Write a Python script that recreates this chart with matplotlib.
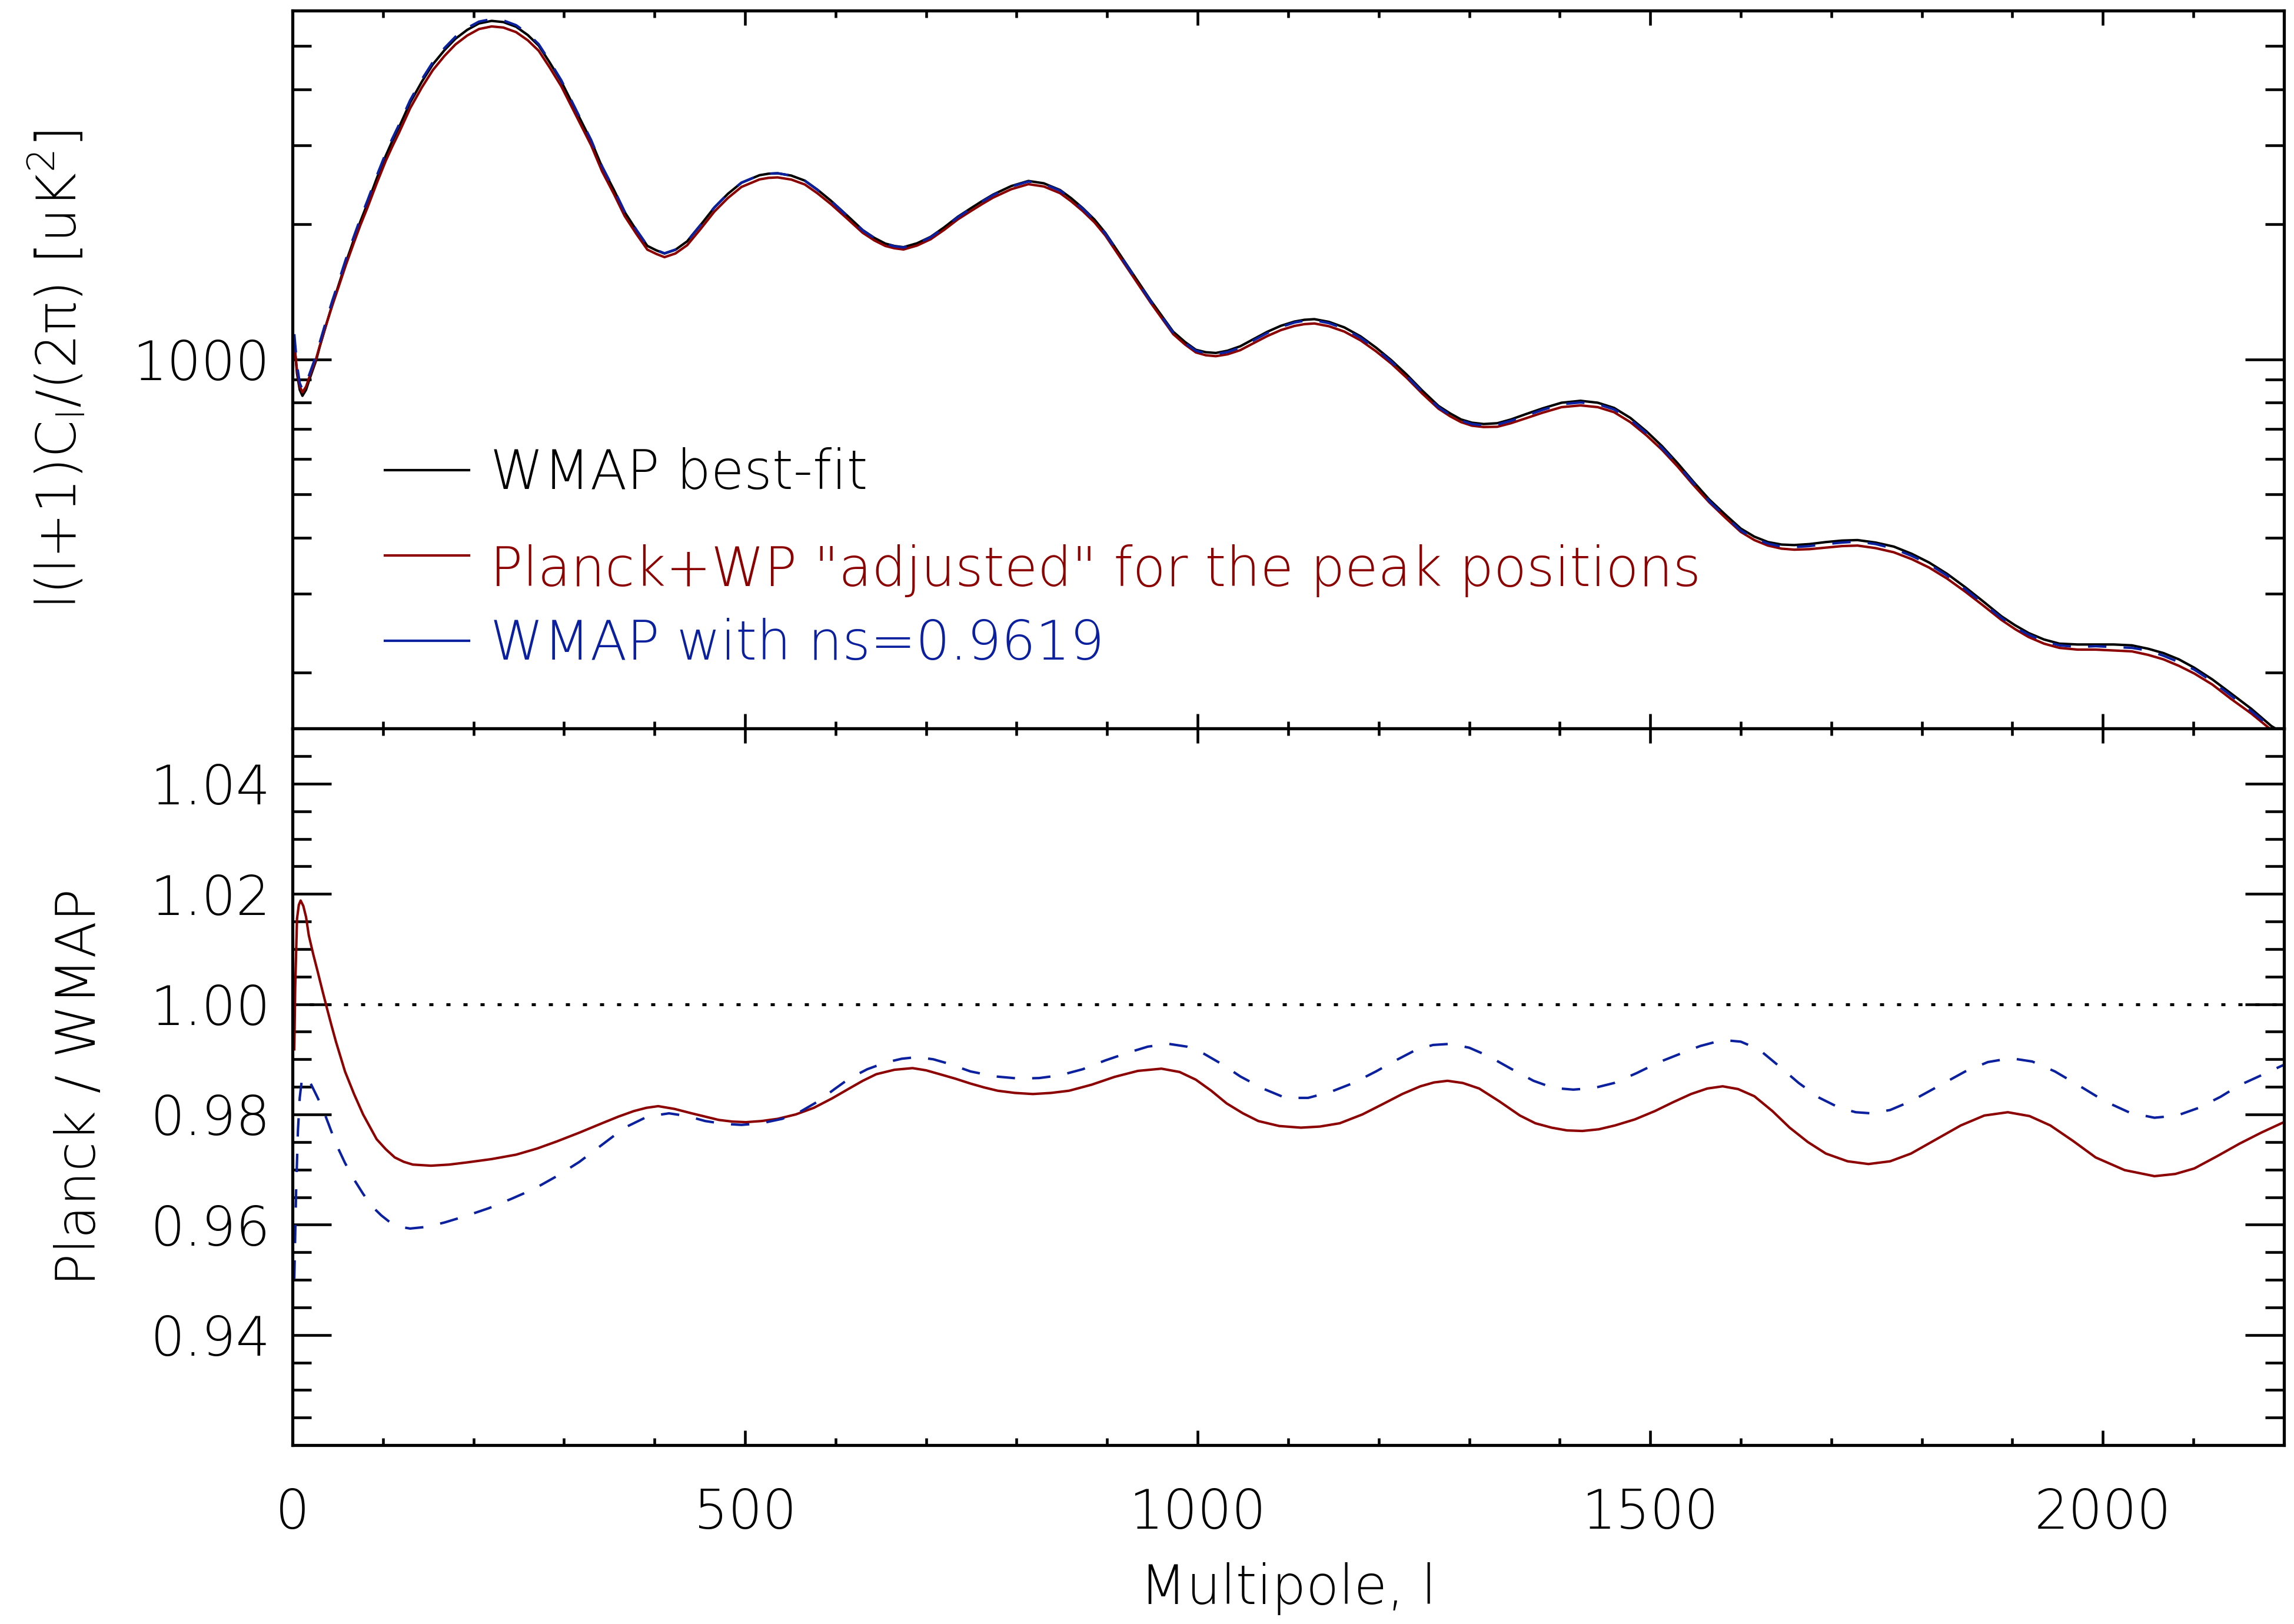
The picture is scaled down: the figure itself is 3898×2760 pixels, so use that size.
import numpy as np
import matplotlib
matplotlib.use("Agg")
import matplotlib.pyplot as plt
from matplotlib.lines import Line2D
from matplotlib.transforms import ScaledTranslation
from matplotlib.ticker import (MultipleLocator, FixedLocator, LogLocator,
                               NullFormatter, FormatStrFormatter)

# --- top panel: l(l+1)C_l/2pi ---
ell = [2, 5, 8, 11, 15, 19, 26, 30, 38, 44, 51, 59, 68, 75, 83, 93, 103, 110,
       118, 130, 143, 155, 168, 180, 193, 206, 220, 233, 247, 260, 272, 284,
       297, 317, 330, 342, 355, 367, 380, 392, 402, 411, 423, 436, 451, 466,
       481, 496, 516, 526, 536, 551, 566, 580, 595, 612, 630, 643, 655, 665,
       675, 690, 705, 720, 735, 749, 762, 774, 794, 813, 830, 848, 860, 873,
       886, 898, 923, 948, 973, 986, 998, 1009, 1020, 1033, 1047, 1062, 1077,
       1092, 1107, 1118, 1129, 1145, 1162, 1180, 1197, 1214, 1231, 1248, 1266,
       1279, 1291, 1303, 1316, 1331, 1346, 1363, 1381, 1402, 1423, 1442, 1460,
       1478, 1496, 1513, 1530, 1547, 1565, 1583, 1600, 1615, 1630, 1645, 1659,
       1676, 1694, 1712, 1729, 1749, 1769, 1789, 1808, 1828, 1848, 1868, 1888,
       1903, 1918, 1935, 1952, 1972, 1992, 2012, 2032, 2050, 2067, 2084, 2101,
       2121, 2141, 2164, 2186, 2200]

dl_wmap = [1090, 930, 855, 829, 855, 905, 993, 1065, 1209, 1325, 1465, 1645,
           1854, 2030, 2231, 2530, 2844, 3060, 3305, 3740, 4166, 4550, 4898,
           5190, 5433, 5616, 5690, 5655, 5522, 5290, 5011, 4600, 4166, 3462,
           3070, 2685, 2390, 2130, 1940, 1791, 1750, 1722, 1755, 1833, 1995,
           2180, 2340, 2477, 2575, 2595, 2600, 2570, 2504, 2390, 2257, 2100,
           1942, 1865, 1812, 1790, 1779, 1815, 1876, 1970, 2080, 2170, 2255,
           2331, 2435, 2500, 2470, 2386, 2290, 2175, 2050, 1915, 1610, 1354,
           1152, 1093, 1050, 1037, 1033, 1045, 1069, 1110, 1152, 1188, 1214,
           1225, 1229, 1212, 1178, 1125, 1062, 995, 924, 852, 787, 757, 734,
           722, 717, 720, 734, 755, 777, 800, 808, 800, 779, 740, 690, 640,
           587, 535, 487, 450, 419, 402, 391, 386, 385, 387, 391, 394, 395,
           390, 382, 368, 352, 332, 310, 288, 267, 255, 245, 237, 232, 231,
           231, 231, 230, 226, 221, 214, 205, 193, 180, 166, 152, 146]

dl_planck = [1081, 944, 871, 844, 869, 917, 1001, 1069, 1208, 1319, 1452,
             1624, 1824, 1992, 2184, 2468, 2771, 2976, 3213, 3632, 4045, 4417,
             4755, 5040, 5277, 5456, 5530, 5498, 5371, 5149, 4881, 4483, 4064,
             3381, 3001, 2627, 2340, 2087, 1903, 1757, 1718, 1690, 1722, 1797,
             1955, 2135, 2290, 2424, 2520, 2540, 2546, 2518, 2455, 2346, 2218,
             2067, 1915, 1841, 1790, 1769, 1758, 1794, 1853, 1945, 2052, 2139,
             2221, 2295, 2396, 2459, 2430, 2348, 2254, 2142, 2021, 1889, 1590,
             1338, 1138, 1079, 1036, 1021, 1016, 1026, 1048, 1087, 1127, 1162,
             1187, 1198, 1202, 1185, 1153, 1102, 1042, 978, 909, 839, 776, 746,
             724, 711, 706, 707, 720, 739, 760, 782, 789, 782, 762, 724, 676,
             628, 577, 526, 480, 443, 412, 395, 384, 378, 376, 377, 380, 383,
             384, 379, 371, 358, 343, 324, 303, 282, 262, 250, 240, 232, 227,
             225, 225, 224, 223, 219, 214, 207, 199, 188, 175, 162, 149, 143]

dl_ns = [1138, 971, 885, 856, 881, 930, 1018, 1088, 1234, 1351, 1491, 1673,
         1884, 2061, 2265, 2564, 2883, 3099, 3348, 3786, 4216, 4602, 4951,
         5245, 5487, 5669, 5741, 5703, 5566, 5330, 5048, 4631, 4193, 3481,
         3084, 2696, 2397, 2135, 1944, 1794, 1753, 1724, 1757, 1834, 1997,
         2182, 2341, 2478, 2576, 2595, 2601, 2569, 2503, 2387, 2254, 2096,
         1939, 1862, 1809, 1787, 1776, 1811, 1872, 1966, 2075, 2165, 2249,
         2325, 2429, 2493, 2463, 2379, 2282, 2168, 2043, 1908, 1604, 1348,
         1146, 1087, 1045, 1031, 1027, 1038, 1062, 1103, 1145, 1181, 1208,
         1219, 1222, 1204, 1171, 1117, 1055, 988, 917, 846, 782, 751, 730,
         717, 712, 715, 729, 749, 771, 794, 801, 794, 773, 734, 684, 634,
         583, 531, 483, 446, 415, 398, 388, 382, 381, 383, 387, 390, 392,
         387, 378, 364, 349, 329, 307, 285, 265, 252, 243, 235, 230, 228,
         229, 228, 227, 224, 218, 211, 203, 191, 178, 164, 151, 145]

# --- bottom panel: ratios ---
ell_r_planck = [2, 3, 5, 7, 9, 12, 15, 18, 23, 28, 33, 38, 43, 48, 58, 68, 78,
                93, 103, 113, 123, 133, 153, 173, 193, 220, 247, 270, 292, 317,
                342, 360, 377, 391, 404, 422, 441, 456, 471, 486, 501, 518, 536,
                556, 576, 596, 615, 630, 645, 665, 685, 700, 715, 732, 749, 764,
                779, 798, 818, 838, 858, 883, 908, 934, 960, 980, 998, 1015,
                1032, 1050, 1067, 1090, 1114, 1135, 1157, 1182, 1206, 1226,
                1246, 1261, 1276, 1293, 1311, 1333, 1356, 1373, 1391, 1408,
                1425, 1443, 1461, 1483, 1505, 1525, 1545, 1563, 1580, 1597,
                1615, 1635, 1654, 1674, 1694, 1718, 1741, 1765, 1788, 1815,
                1843, 1869, 1895, 1919, 1942, 1967, 1992, 2024, 2057, 2080,
                2101, 2126, 2151, 2175, 2200]
ratio_planck = [0.9918, 1.0030, 1.0155, 1.0180, 1.0188, 1.0178, 1.0158, 1.0125,
                1.0090, 1.0058, 1.0025, 0.9993, 0.9962, 0.9932, 0.9878, 0.9837,
                0.9800, 0.9755, 0.9737, 0.9722, 0.9714, 0.9709, 0.9707, 0.9709,
                0.9713, 0.9719, 0.9727, 0.9738, 0.9751, 0.9767, 0.9784, 0.9796,
                0.9806, 0.9812, 0.9815, 0.9810, 0.9802, 0.9796, 0.9790, 0.9787,
                0.9786, 0.9788, 0.9792, 0.9800, 0.9812, 0.9829, 0.9847, 0.9861,
                0.9873, 0.9881, 0.9884, 0.9880, 0.9873, 0.9865, 0.9856, 0.9849,
                0.9843, 0.9839, 0.9837, 0.9839, 0.9843, 0.9854, 0.9868, 0.9879,
                0.9883, 0.9877, 0.9863, 0.9843, 0.9820, 0.9802, 0.9788, 0.9779,
                0.9776, 0.9778, 0.9784, 0.9800, 0.9820, 0.9837, 0.9851, 0.9858,
                0.9861, 0.9857, 0.9847, 0.9824, 0.9798, 0.9784, 0.9776, 0.9771,
                0.9770, 0.9773, 0.9780, 0.9791, 0.9806, 0.9822, 0.9837, 0.9847,
                0.9851, 0.9846, 0.9833, 0.9806, 0.9776, 0.9750, 0.9729, 0.9715,
                0.9710, 0.9715, 0.9729, 0.9754, 0.9780, 0.9798, 0.9804, 0.9797,
                0.9780, 0.9752, 0.9722, 0.9699, 0.9688, 0.9692, 0.9702, 0.9724,
                0.9747, 0.9767, 0.9786]

ell_r_ns = [2, 3, 4, 6, 8, 10, 13, 17, 21, 27, 33, 40, 48, 58, 68, 78, 88, 98,
            108, 119, 130, 148, 168, 192, 217, 242, 267, 292, 317, 342, 367,
            392, 416, 436, 456, 476, 496, 518, 541, 561, 581, 598, 615, 635,
            655, 673, 690, 708, 725, 749, 776, 803, 825, 848, 873, 898, 923,
            945, 968, 988, 1007, 1027, 1047, 1072, 1097, 1122, 1147, 1172,
            1197, 1220, 1241, 1260, 1279, 1300, 1321, 1346, 1371, 1393, 1415,
            1438, 1460, 1485, 1510, 1530, 1555, 1580, 1600, 1620, 1642, 1664,
            1687, 1709, 1727, 1744, 1765, 1788, 1818, 1848, 1873, 1898, 1922,
            1947, 1975, 2002, 2030, 2057, 2082, 2106, 2130, 2151, 2175, 2200]
ratio_ns = [0.9502, 0.9580, 0.9660, 0.9770, 0.9830, 0.9858, 0.9869, 0.9865,
            0.9853, 0.9833, 0.9812, 0.9782, 0.9747, 0.9712, 0.9682, 0.9656,
            0.9633, 0.9617, 0.9604, 0.9596, 0.9593, 0.9596, 0.9604, 0.9616,
            0.9630, 0.9647, 0.9665, 0.9688, 0.9714, 0.9745, 0.9776, 0.9796,
            0.9802, 0.9797, 0.9788, 0.9783, 0.9781, 0.9784, 0.9792, 0.9805,
            0.9824, 0.9845, 0.9865, 0.9882, 0.9894, 0.9901, 0.9904, 0.9900,
            0.9892, 0.9878, 0.9869, 0.9865, 0.9866, 0.9871, 0.9882, 0.9898,
            0.9912, 0.9923, 0.9928, 0.9923, 0.9910, 0.9891, 0.9869, 0.9847,
            0.9830, 0.9830, 0.9841, 0.9857, 0.9878, 0.9899, 0.9917, 0.9926,
            0.9928, 0.9921, 0.9906, 0.9883, 0.9861, 0.9848, 0.9845, 0.9848,
            0.9857, 0.9875, 0.9895, 0.9908, 0.9924, 0.9935, 0.9932, 0.9918,
            0.9888, 0.9857, 0.9830, 0.9812, 0.9804, 0.9802, 0.9808, 0.9824,
            0.9851, 0.9878, 0.9895, 0.9902, 0.9896, 0.9878, 0.9851, 0.9824,
            0.9803, 0.9794, 0.9798, 0.9812, 0.9832, 0.9853, 0.9871, 0.9890]

labels = ['WMAP best-fit',
          'Planck+WP "adjusted" for the peak positions',
          'WMAP with ns=0.9619']

RED = '#8c0000'
BLUE = '#0b209e'
FS = 22

plt.rcParams['font.family'] = ['DejaVu Sans']
plt.rcParams['font.weight'] = 'light'
plt.rcParams['axes.labelweight'] = 'light'
plt.rcParams['mathtext.default'] = 'regular'
plt.rcParams['axes.linewidth'] = 1.25

fig = plt.figure(figsize=(3898 / 300, 2760 / 300), dpi=300)
ax1 = fig.add_axes([0.1275, 0.5514, 0.8681, 0.4421])
ax2 = fig.add_axes([0.1275, 0.1101, 0.8681, 0.4413])

# top panel
ax1.plot(ell, dl_wmap, color='k', lw=1.0)
ax1.plot(ell, dl_planck, color=RED, lw=1.0)
ax1.plot(ell, dl_ns, color=BLUE, lw=1.0, dashes=(7.5, 7.0))
ax1.set_yscale('log')
ax1.set_ylim(150, 6000)
ax1.set_xlim(0, 2200)
ax1.yaxis.set_major_locator(FixedLocator([1000]))
ax1.yaxis.set_minor_locator(LogLocator(base=10, subs=np.arange(2, 10), numticks=20))
ax1.yaxis.set_major_formatter(FormatStrFormatter('%d'))
ax1.yaxis.set_minor_formatter(NullFormatter())
ax1.set_ylabel('l(l+1)C$_l$/(2π) [uK$^2$]', fontsize=FS)
ax1.yaxis.set_label_coords(-0.103, 0.5)

handles = [Line2D([], [], color=c, lw=1.0) for c in ['k', RED, BLUE]]
leg = ax1.legend(handles, labels, loc='upper left', bbox_to_anchor=(0.0464, 0.392),
                 frameon=False, fontsize=FS, handlelength=1.56, handletextpad=0.39,
                 labelspacing=0.6, borderpad=0, borderaxespad=0,
                 labelcolor=['k', RED, BLUE])
# the middle label sits a little below its line in the original
red_txt = leg.get_texts()[1]
red_txt.set_transform(red_txt.get_transform()
                      + ScaledTranslation(0, -20 / 300, fig.dpi_scale_trans))

# bottom panel
ax2.axhline(1.0, color='k', lw=1.2, ls=(0, (1.4, 4.4)))
ax2.plot(ell_r_planck, ratio_planck, color=RED, lw=1.0)
ax2.plot(ell_r_ns, ratio_ns, color=BLUE, lw=1.0, dashes=(7.5, 7.0))
ax2.set_xlim(0, 2200)
ax2.set_ylim(0.92, 1.05)
ax2.yaxis.set_major_locator(FixedLocator([0.94, 0.96, 0.98, 1.00, 1.02, 1.04]))
ax2.yaxis.set_minor_locator(MultipleLocator(0.005))
ax2.yaxis.set_major_formatter(FormatStrFormatter('%.2f'))
ax2.set_ylabel('Planck / WMAP', fontsize=FS)
ax2.yaxis.set_label_coords(-0.0934, 0.5)
ax2.set_xlabel('Multipole, l', fontsize=FS)
ax2.xaxis.set_label_coords(0.5, -0.163)

for ax in (ax1, ax2):
    ax.xaxis.set_major_locator(MultipleLocator(500))
    ax.xaxis.set_minor_locator(MultipleLocator(100))
    ax.tick_params(which='both', direction='in', top=True, right=True,
                   width=1.1, labelsize=FS)
    ax.tick_params(axis='y', which='major', length=15.8, pad=9)
    ax.tick_params(axis='y', which='minor', length=7.7)
    ax.tick_params(axis='x', which='major', length=6, pad=17)
    ax.tick_params(axis='x', which='minor', length=2.9)
ax1.tick_params(labelbottom=False)

fig.savefig('out.png', dpi=300)
